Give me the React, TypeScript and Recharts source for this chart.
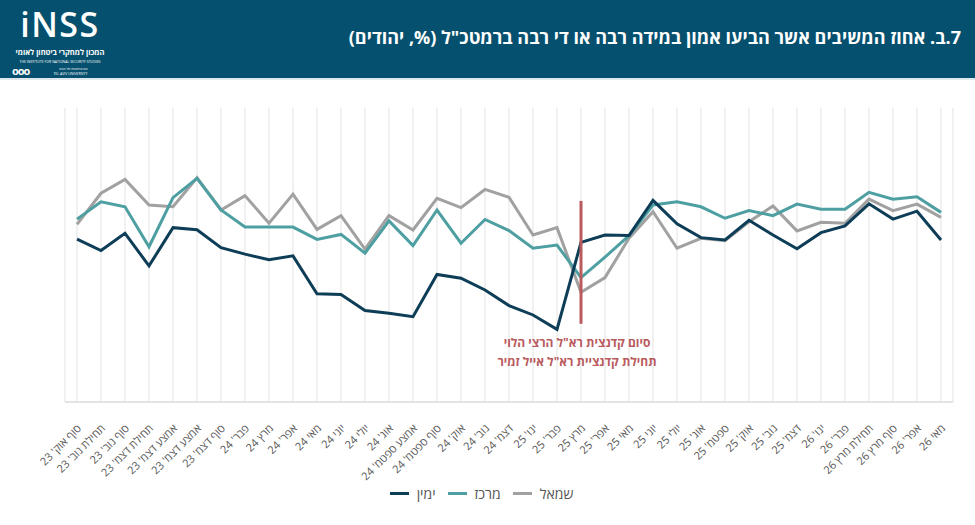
import React from "react";
import { LineChart, Line, XAxis, YAxis, CartesianGrid, ReferenceLine } from "recharts";

const categories: string[] = [
  "סוף אוק' 23", "תחילת נוב' 23", "סוף נוב' 23", "תחילת דצמ' 23", "אמצע דצמ' 23", "אמצע דצמ' 23 ", "סוף דצמ' 23",
  "פבר' 24", "מרץ 24", "אפר' 24", "מאי 24", "יוני 24", "יולי 24", "אוג' 24", "אמצע ספטמ' 24", "סוף ספטמ' 24",
  "אוק' 24", "נוב' 24", "דצמ' 24", "ינו' 25", "פבר' 25", "מרץ 25", "אפר' 25", "מאי 25", "יוני 25", "יולי 25",
  "אוג' 25", "ספטמ' 25", "אוק' 25", "נוב' 25", "דצמ' 25", "ינו' 26", "פבר' 26", "תחילת מרץ 26", "סוף מרץ 26",
  "אפר' 26", "מאי 26",
];

const right: number[] = [
  55.4, 51.5, 57.4, 46.3, 59.3, 58.6, 52.5, 50.3, 48.4, 49.7, 36.8, 36.6, 31.1, 30.2, 29.0, 43.4, 42.1, 38.1, 32.8,
  29.6, 24.7, 54.3, 56.8, 56.6, 68.6, 60.6, 55.9, 55.1, 61.8, 56.8, 52.1, 57.6, 59.9, 67.4, 62.2, 64.9, 55.1,
];
const center: number[] = [
  62.2, 68.1, 66.4, 52.8, 69.5, 76.1, 65.3, 59.5, 59.5, 59.5, 55.3, 57.0, 50.6, 61.6, 53.2, 65.3, 54.0, 62.1, 58.3,
  52.3, 53.4, 42.3, 49.3, 56.6, 67.0, 68.1, 66.4, 62.5, 65.1, 63.4, 67.3, 65.6, 65.6, 71.3, 69.0, 69.8, 64.5,
];
const left: number[] = [
  60.4, 71.0, 75.7, 67.0, 66.4, 76.3, 65.3, 70.2, 60.8, 70.7, 58.7, 63.4, 52.0, 63.4, 58.5, 69.3, 66.1, 72.3, 69.6,
  56.8, 59.3, 37.3, 42.3, 55.7, 64.7, 52.3, 55.7, 54.9, 61.3, 66.7, 58.2, 61.1, 60.8, 69.0, 65.1, 67.3, 62.8,
];

const seriesNames = { right: "ימין", center: "מרכז", left: "שמאל" };
const markerCategory = "מרץ 25";
const markerRange: [number, number] = [68.4, 26.6];
const markerText: string[] = ["סיום קדנצית רא\"ל הרצי הלוי", "תחילת קדנציית רא\"ל אייל זמיר"];
const titlePrefix = ".ב.7";
const title = "אחוז המשיבים אשר הביעו אמון במידה רבה או די רבה ברמטכ\"ל (%, יהודים)";

const data = categories.map((c, i) => ({ name: c, right: right[i], center: center[i], left: left[i] }));

const COLORS = { right: "#0e3d57", center: "#4d9fa2", left: "#a1a1a1", marker: "#b95a5d", header: "#05506e" };
const FONT = "'Open Sans', 'DejaVu Sans', sans-serif";

const Tick = (props: any) => {
  const { x, y, payload } = props;
  return (
    <g transform={`translate(${x + 5},${y + 19})`}>
      <text x={0} y={0} textAnchor="end" transform="rotate(-45)" fill="#555" fontSize={11} fontFamily={FONT}>
        {String(payload.value).trim()}
      </text>
    </g>
  );
};

const LegendItem = ({ color, label }: { color: string; label: string }) => (
  <div style={{ display: "flex", alignItems: "center", marginRight: 12 }}>
    <div style={{ width: 19, height: 3, background: color, marginRight: 8 }} />
    <span style={{ fontSize: 14, color: "#555", fontFamily: FONT }}>{label}</span>
  </div>
);

export default function App() {
  return (
    <div style={{ position: "fixed", left: 0, top: 0, width: 975, height: 525, background: "#fff", overflow: "hidden" }}>
      <div style={{ position: "absolute", left: 0, top: 0, width: 975, height: 78, background: COLORS.header }} />
      <div style={{ position: "absolute", left: 0, top: 78, width: 975, height: 2, background: "#dfe8ec" }} />
      {/* logo */}
      <div style={{ position: "absolute", left: 12, top: 1, width: 96, color: "#fff", fontFamily: FONT }}>
        <div style={{ fontSize: 34, fontWeight: 600, letterSpacing: 1.5, lineHeight: "46px", height: 46, textAlign: "center", whiteSpace: "nowrap" }}>
          iNSS
        </div>
        <div style={{ fontSize: 7.5, lineHeight: "11px", direction: "rtl", textAlign: "center", fontWeight: 700, whiteSpace: "nowrap" }}>
          המכון למחקרי ביטחון לאומי
        </div>
        <div style={{ fontSize: 3.5, lineHeight: "5px", marginTop: 1, textAlign: "center", whiteSpace: "nowrap" }}>
          THE INSTITUTE FOR NATIONAL SECURITY STUDIES
        </div>
        <div style={{ display: "flex", alignItems: "center", marginTop: 2, height: 10 }}>
          <span style={{ fontSize: 11, fontWeight: 700, letterSpacing: -1, lineHeight: "10px" }}>ооо</span>
          <div style={{ fontSize: 3.5, marginLeft: 24, direction: "rtl", whiteSpace: "nowrap" }}>
            <div style={{ lineHeight: "5px" }}>אוניברסיטת תל אביב</div>
            <div style={{ lineHeight: "5px" }}>TEL AVIV UNIVERSITY</div>
          </div>
        </div>
      </div>
      <div
        style={{
          position: "absolute",
          right: 14,
          top: 25,
          color: "#fff",
          fontFamily: FONT,
          fontSize: 18,
          fontWeight: 700,
          direction: "rtl",
          whiteSpace: "nowrap",
        }}
      >
        <span style={{ direction: "ltr", unicodeBidi: "bidi-override", display: "inline-block" }}>{titlePrefix}</span>{" "}
        {title}
      </div>

      <div style={{ position: "absolute", left: 0, top: 0 }}>
        <LineChart width={975} height={525} data={data} margin={{ top: 108, right: 22, bottom: 0, left: 65 }}>
          <CartesianGrid horizontal={false} stroke="#e8e8e8" strokeWidth={1.2} />
          <XAxis
            dataKey="name"
            interval={0}
            tick={<Tick />}
            tickLine={false}
            axisLine={{ stroke: "#e3e3e3", strokeWidth: 2 }}
            padding={{ left: 12, right: 12 }}
            height={123}
          />
          <YAxis domain={[0, 100]} hide />
          <Line dataKey="left" name={seriesNames.left} stroke={COLORS.left} strokeWidth={3} dot={false} isAnimationActive={false} />
          <Line dataKey="center" name={seriesNames.center} stroke={COLORS.center} strokeWidth={3} dot={false} isAnimationActive={false} />
          <Line dataKey="right" name={seriesNames.right} stroke={COLORS.right} strokeWidth={3} dot={false} isAnimationActive={false} />
          <ReferenceLine
            segment={[
              { x: markerCategory, y: markerRange[0] },
              { x: markerCategory, y: markerRange[1] },
            ]}
            stroke={COLORS.marker}
            strokeWidth={3}
          />
        </LineChart>
      </div>

      <div
        style={{
          position: "absolute",
          left: 480,
          top: 333,
          width: 200,
          marginLeft: -100,
          textAlign: "center",
          direction: "rtl",
          color: COLORS.marker,
          fontFamily: FONT,
          fontSize: 12,
          fontWeight: 700,
          lineHeight: "19px",
        }}
      >
        <div style={{ position: "relative", left: 97 }}>{markerText[0]}</div>
        <div style={{ position: "relative", left: 97 }}>{markerText[1]}</div>
      </div>

      <div
        style={{
          position: "absolute",
          left: 0,
          top: 484,
          width: 975,
          display: "flex",
          justifyContent: "center",
        }}
      >
        <LegendItem color={COLORS.right} label={seriesNames.right} />
        <LegendItem color={COLORS.center} label={seriesNames.center} />
        <LegendItem color={COLORS.left} label={seriesNames.left} />
      </div>
    </div>
  );
}
